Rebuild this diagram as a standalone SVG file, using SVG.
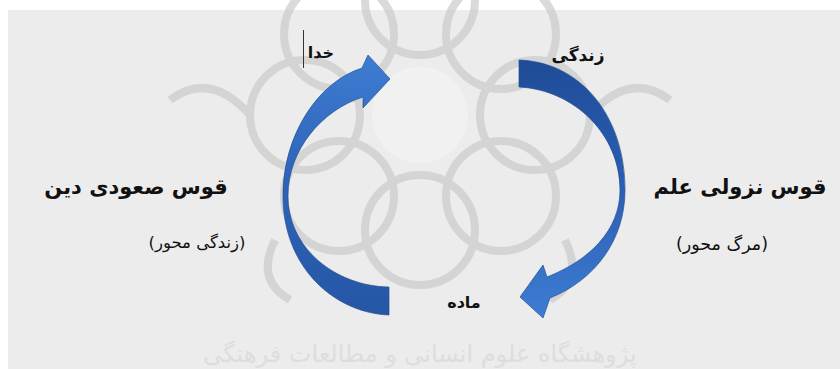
<svg xmlns="http://www.w3.org/2000/svg" width="840" height="369" viewBox="0 0 840 369">
<style>
.t{font-family:"DejaVu Sans","Noto Sans",sans-serif;fill:#111;}
.b{font-weight:bold;}
.wm{fill:none;stroke:#cbcbcb;stroke-width:8;}
.wmt{font-family:"DejaVu Sans",sans-serif;fill:#d8d8d8;font-size:24px;}
.arr{stroke:#24508f;stroke-width:0.7;}
</style>
<defs>
<linearGradient id="gL" gradientUnits="userSpaceOnUse" x1="0" y1="55" x2="0" y2="315">
<stop offset="0" stop-color="#3d7cd2"/>
<stop offset="0.5" stop-color="#2d63b8"/>
<stop offset="1" stop-color="#2656a6"/>
</linearGradient>
<linearGradient id="gR" gradientUnits="userSpaceOnUse" x1="0" y1="60" x2="0" y2="318">
<stop offset="0" stop-color="#1f4c98"/>
<stop offset="0.45" stop-color="#2a5cb0"/>
<stop offset="1" stop-color="#3d7dd3"/>
</linearGradient>
</defs>
<rect x="0" y="0" width="840" height="369" fill="#ffffff"/>
<rect x="8" y="10" width="832" height="359" fill="#ececec"/>
<g id="watermark" opacity="0.7">
<circle cx="420" cy="115" r="48" fill="#f4f4f4"/>
<g class="wm">
<circle cx="535" cy="115" r="55"/>
<circle cx="501" cy="196" r="55"/>
<circle cx="420" cy="230" r="55"/>
<circle cx="339" cy="196" r="55"/>
<circle cx="305" cy="115" r="55"/>
<circle cx="339" cy="34" r="55"/>
<circle cx="420" cy="0" r="55"/>
<circle cx="501" cy="34" r="55"/>
<path d="M250,115 Q210,70 170,100 M590,115 Q630,70 670,100 M275,240 Q255,280 290,300 M565,240 Q585,280 550,300"/>
</g>
<text class="wmt" x="420" y="362" text-anchor="middle" direction="rtl">پژوهشگاه علوم انسانی و مطالعات فرهنگی</text>
</g>
<g id="connectors">
<path id="arrow-up" class="arr" fill="url(#gL)" d="M389,315 C335,313 283,268 283,196 C283,135 318,82 362,68 L368,55 L390,79 L363,108 L363,97 C322,110 288,150 288,196 C288,248 335,286 389,287 Z"/>
<path id="arrow-down" class="arr" fill="url(#gR)" d="M519,60 C580,62 625,115 625,190 C625,240 595,280 550,298 L543,318 L520,297 L543,265 L547,277 C590,260 620,230 620,190 C620,135 575,90 519,87 Z"/>
</g>
<g id="node-khoda">
<line x1="303.5" y1="30" x2="303.5" y2="68" stroke="#333" stroke-width="1"/>
<text class="t b" x="321" y="58" font-size="16" text-anchor="middle" direction="rtl">خدا</text>
</g>
<g id="node-zendegi">
<text class="t b" x="578" y="61" font-size="17" text-anchor="middle" direction="rtl">زندگی</text>
</g>
<g id="node-ghos-soudi">
<text class="t b" x="136" y="194" font-size="21" text-anchor="middle" direction="rtl">قوس صعودی دین</text>
<text class="t" x="197" y="248" font-size="16.5" text-anchor="middle" direction="rtl">(زندگی محور)</text>
</g>
<g id="node-ghos-nozouli">
<text class="t b" x="740" y="194" font-size="21" text-anchor="middle" direction="rtl">قوس نزولی علم</text>
<text class="t" x="722" y="250" font-size="17.5" text-anchor="middle" direction="rtl">(مرگ محور)</text>
</g>
<g id="node-madde">
<text class="t b" x="464" y="308" font-size="16" text-anchor="middle" direction="rtl">ماده</text>
</g>
</svg>
